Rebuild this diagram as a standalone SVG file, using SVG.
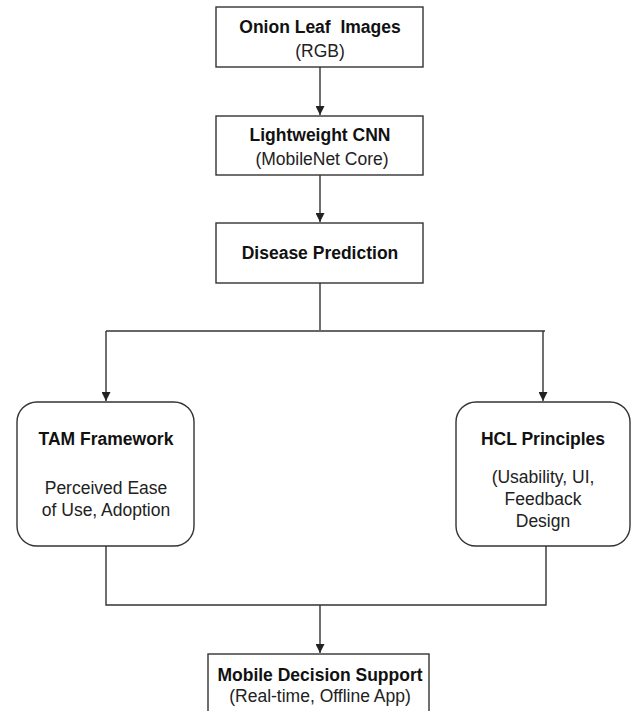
<svg xmlns="http://www.w3.org/2000/svg" width="632" height="711" viewBox="0 0 632 711">
<defs>
<marker id="arr" viewBox="0 0 10 10" refX="10" refY="5" markerWidth="9" markerHeight="9" markerUnits="userSpaceOnUse" orient="auto">
<path d="M0,0 L10,5 L0,10 z" fill="#222"/>
</marker>
<style>
.box{fill:#fff;stroke:#333;stroke-width:1.4}
.c{fill:none;stroke:#333;stroke-width:1.4}
.b{font-family:"Liberation Sans",Arial,sans-serif;font-weight:bold;font-size:17.5px;fill:#111;text-anchor:middle;white-space:pre}
.n{font-family:"Liberation Sans",Arial,sans-serif;font-size:17.5px;fill:#222;text-anchor:middle}
</style>
</defs>
<rect width="632" height="711" fill="#fff"/>
<g id="connectors">
<path class="c" d="M320,67 V115" marker-end="url(#arr)"/>
<path class="c" d="M320,175 V222" marker-end="url(#arr)"/>
<path class="c" d="M320,283 V330"/>
<path class="c" d="M106,331 H545"/>
<path class="c" d="M106,331 V401" marker-end="url(#arr)"/>
<path class="c" d="M543,331 V401" marker-end="url(#arr)"/>
<path class="c" d="M106,546 V605 H546 V546"/>
<path class="c" d="M320,605 V653" marker-end="url(#arr)"/>
</g>
<g id="n1">
<rect class="box" x="216" y="7" width="207" height="60"/>
<text class="b" x="320" y="33" xml:space="preserve">Onion Leaf  Images</text>
<text class="n" x="320" y="57">(RGB)</text>
</g>
<g id="n2">
<rect class="box" x="216" y="116" width="207" height="59"/>
<text class="b" x="320" y="141">Lightweight CNN</text>
<text class="n" x="322" y="165">(MobileNet Core)</text>
</g>
<g id="n3">
<rect class="box" x="216" y="223" width="207" height="60"/>
<text class="b" x="320" y="259">Disease Prediction</text>
</g>
<g id="n4">
<rect class="box" x="17" y="402" width="177" height="144" rx="20"/>
<text class="b" x="106" y="445">TAM Framework</text>
<text class="n" x="106" y="494">Perceived Ease</text>
<text class="n" x="106" y="516">of Use, Adoption</text>
</g>
<g id="n5">
<rect class="box" x="456" y="402" width="174" height="144" rx="20"/>
<text class="b" x="543" y="445">HCL Principles</text>
<text class="n" x="543" y="483">(Usability, UI,</text>
<text class="n" x="543" y="505">Feedback</text>
<text class="n" x="543" y="527">Design</text>
</g>
<g id="n6">
<rect class="box" x="208" y="654" width="221" height="70"/>
<text class="b" x="320" y="681">Mobile Decision Support</text>
<text class="n" x="320" y="702">(Real-time, Offline App)</text>
</g>
</svg>
